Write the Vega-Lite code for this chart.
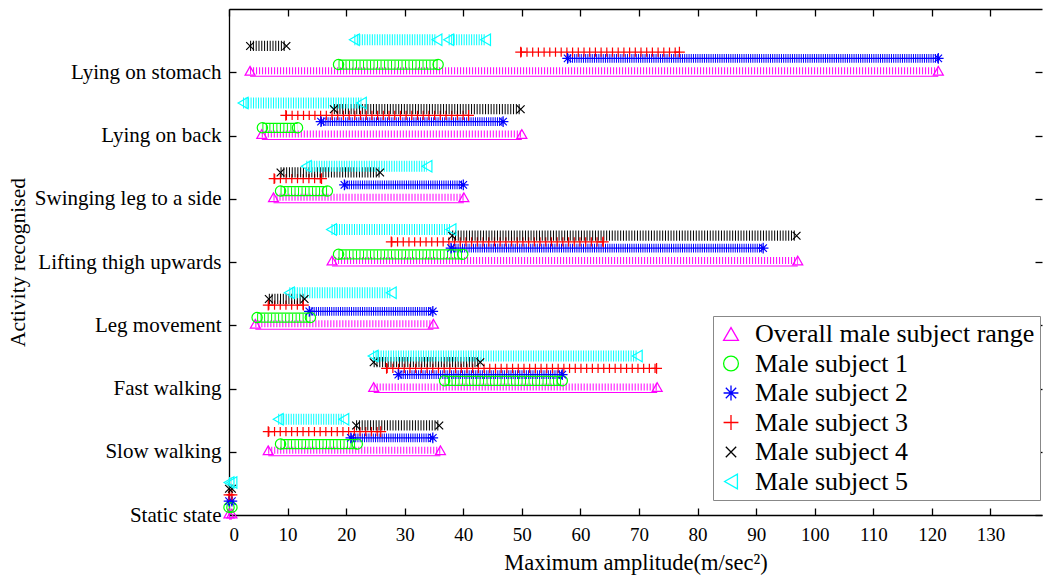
{
  "$schema": "https://vega.github.io/schema/vega-lite/v6.json",
  "autosize": {"type": "none"},
  "padding": {"left": 229, "top": 9, "right": 1, "bottom": 63},
  "width": 813,
  "height": 506,
  "config": {
    "view": {"stroke": null},
    "font": "Liberation Serif",
    "axis": {"grid": false, "domainColor": "black", "tickColor": "black", "domainWidth": 1.3, "tickWidth": 1.3, "labelColor": "black", "titleColor": "black", "labelFont": "Liberation Serif", "titleFont": "Liberation Serif", "titleFontWeight": "normal"},
    "legend": {"labelFont": "Liberation Serif", "labelFontSize": 26, "labelColor": "black", "labelLimit": 400, "symbolSize": 220, "symbolStrokeWidth": 1.3, "rowPadding": 3.5, "padding": 5, "strokeColor": "#888888", "fillColor": "white", "labelOffset": 11}
  },
  "resolve": {"scale": {"yOffset": "independent"}},
  "data": {
    "values": [
      {"activity": "Lying on stomach", "series": "Overall male subject range", "lo": 3.6, "hi": 121.1},
      {"activity": "Lying on stomach", "series": "Male subject 1", "lo": 18.7, "hi": 35.7},
      {"activity": "Lying on stomach", "series": "Male subject 2", "lo": 57.8, "hi": 121.1},
      {"activity": "Lying on stomach", "series": "Male subject 3", "lo": 49.8, "hi": 76.9},
      {"activity": "Lying on stomach", "series": "Male subject 4", "lo": 3.6, "hi": 9.8},
      {"activity": "Lying on stomach", "series": "Male subject 5", "lo": 21.4, "hi": 35.5},
      {"activity": "Lying on stomach", "series": "Male subject 5", "lo": 37.5, "hi": 43.8},
      {"activity": "Lying on back", "series": "Overall male subject range", "lo": 5.6, "hi": 50.0},
      {"activity": "Lying on back", "series": "Male subject 1", "lo": 5.7, "hi": 11.7},
      {"activity": "Lying on back", "series": "Male subject 2", "lo": 15.7, "hi": 46.8},
      {"activity": "Lying on back", "series": "Male subject 3", "lo": 9.7, "hi": 40.9},
      {"activity": "Lying on back", "series": "Male subject 4", "lo": 17.9, "hi": 49.8},
      {"activity": "Lying on back", "series": "Male subject 5", "lo": 2.4, "hi": 22.6},
      {"activity": "Swinging leg to a side", "series": "Overall male subject range", "lo": 7.6, "hi": 40.1},
      {"activity": "Swinging leg to a side", "series": "Male subject 1", "lo": 8.8, "hi": 16.8},
      {"activity": "Swinging leg to a side", "series": "Male subject 2", "lo": 19.7, "hi": 40.0},
      {"activity": "Swinging leg to a side", "series": "Male subject 3", "lo": 7.7, "hi": 15.8},
      {"activity": "Swinging leg to a side", "series": "Male subject 4", "lo": 8.8, "hi": 25.8},
      {"activity": "Swinging leg to a side", "series": "Male subject 5", "lo": 13.2, "hi": 33.8},
      {"activity": "Lifting thigh upwards", "series": "Overall male subject range", "lo": 17.6, "hi": 97.1},
      {"activity": "Lifting thigh upwards", "series": "Male subject 1", "lo": 18.7, "hi": 39.9},
      {"activity": "Lifting thigh upwards", "series": "Male subject 2", "lo": 37.9, "hi": 91.2},
      {"activity": "Lifting thigh upwards", "series": "Male subject 3", "lo": 27.7, "hi": 63.9},
      {"activity": "Lifting thigh upwards", "series": "Male subject 4", "lo": 38.1, "hi": 96.9},
      {"activity": "Lifting thigh upwards", "series": "Male subject 5", "lo": 17.5, "hi": 37.9},
      {"activity": "Leg movement", "series": "Overall male subject range", "lo": 4.5, "hi": 34.9},
      {"activity": "Leg movement", "series": "Male subject 1", "lo": 4.8, "hi": 13.9},
      {"activity": "Leg movement", "series": "Male subject 2", "lo": 13.7, "hi": 34.8},
      {"activity": "Leg movement", "series": "Male subject 3", "lo": 6.7, "hi": 12.7},
      {"activity": "Leg movement", "series": "Male subject 4", "lo": 6.8, "hi": 12.9},
      {"activity": "Leg movement", "series": "Male subject 5", "lo": 10.3, "hi": 27.7},
      {"activity": "Fast walking", "series": "Overall male subject range", "lo": 24.7, "hi": 73.1},
      {"activity": "Fast walking", "series": "Male subject 1", "lo": 36.8, "hi": 56.9},
      {"activity": "Fast walking", "series": "Male subject 2", "lo": 28.9, "hi": 56.9},
      {"activity": "Fast walking", "series": "Male subject 3", "lo": 26.9, "hi": 73.0},
      {"activity": "Fast walking", "series": "Male subject 4", "lo": 24.7, "hi": 42.9},
      {"activity": "Fast walking", "series": "Male subject 5", "lo": 24.6, "hi": 69.7},
      {"activity": "Slow walking", "series": "Overall male subject range", "lo": 6.7, "hi": 36.1},
      {"activity": "Slow walking", "series": "Male subject 1", "lo": 8.8, "hi": 21.9},
      {"activity": "Slow walking", "series": "Male subject 2", "lo": 20.8, "hi": 34.8},
      {"activity": "Slow walking", "series": "Male subject 3", "lo": 6.7, "hi": 25.9},
      {"activity": "Slow walking", "series": "Male subject 4", "lo": 21.7, "hi": 35.9},
      {"activity": "Slow walking", "series": "Male subject 5", "lo": 8.4, "hi": 19.6},
      {"activity": "Static state", "series": "Overall male subject range", "lo": 0.0, "hi": 0.5},
      {"activity": "Static state", "series": "Male subject 1", "lo": 0.0, "hi": 0.5},
      {"activity": "Static state", "series": "Male subject 2", "lo": 0.0, "hi": 0.5},
      {"activity": "Static state", "series": "Male subject 3", "lo": 0.0, "hi": 0.5},
      {"activity": "Static state", "series": "Male subject 4", "lo": 0.0, "hi": 0.5},
      {"activity": "Static state", "series": "Male subject 5", "lo": 0.0, "hi": 0.5}
    ]
  },
  "layer": [
    {
      "mark": {"type": "rule", "strokeCap": "butt"},
      "encoding": {
        "x": {"field": "lo", "type": "quantitative", "scale": {"domain": [0, 138.8], "nice": false, "zero": false},
          "axis": {"orient": "bottom", "values": [0,10,20,30,40,50,60,70,80,90,100,110,120,130], "tickSize": -7, "labelFontSize": 19, "labelPadding": 17, "title": "Maximum amplitude(m/sec²)", "titleFontSize": 22.5, "titlePadding": 7}},
        "x2": {"field": "hi"},
        "y": {"field": "activity", "type": "nominal",
          "scale": {"type": "point", "domain": ["Lying on stomach", "Lying on back", "Swinging leg to a side", "Lifting thigh upwards", "Leg movement", "Fast walking", "Slow walking", "Static state"], "padding": 0.5, "align": 1},
          "axis": {"orient": "left", "tickSize": -7, "labelFontSize": 21, "labelPadding": 15, "labelLimit": 320, "title": "Activity recognised", "titleFontSize": 21.5, "titlePadding": 5}},
        "yOffset": {"field": "series", "type": "nominal", "scale": {"type": "point", "domain": ["Overall male subject range", "Male subject 1", "Male subject 2", "Male subject 3", "Male subject 4", "Male subject 5"], "range": [-1.5, -32.5], "padding": 0}},
        "color": {"field": "series", "type": "nominal", "title": null,
          "scale": {"domain": ["Overall male subject range", "Male subject 1", "Male subject 2", "Male subject 3", "Male subject 4", "Male subject 5"], "range": ["#ff00ff", "#00ff00", "#0000ff", "#ff0000", "#000000", "#00ffff"]},
          "legend": {"orient": "none", "legendX": 484, "legendY": 307, "title": null, "labelFont": "Liberation Serif", "labelFontSize": 26}},
        "strokeWidth": {"field": "series", "type": "nominal", "legend": null,
          "scale": {"domain": ["Male subject 5", "Male subject 4", "Male subject 3", "Male subject 2", "Male subject 1", "Overall male subject range"], "range": [11, 7, 9, 8, 10, 11]}},
        "strokeDash": {"field": "series", "type": "nominal", "legend": null,
          "scale": {"domain": ["Male subject 5", "Male subject 4", "Male subject 3", "Male subject 2", "Male subject 1", "Overall male subject range"], "range": [[1, 1.5], [1, 1.8], [1.2, 4.5], [1, 1.2], [1, 2.5], [1, 2]]}}
      }
    },
    {
      "transform": [{"fold": ["lo", "hi"], "as": ["end", "xv"]}],
      "mark": {"type": "point", "filled": false, "strokeWidth": 1.2, "opacity": 1},
      "encoding": {
        "x": {"field": "xv", "type": "quantitative",
          "axis": {"orient": "top", "values": [0,10,20,30,40,50,60,70,80,90,100,110,120,130], "tickSize": -7, "labels": false, "title": null, "domain": true}},
        "y": {"field": "activity", "type": "nominal",
          "axis": {"orient": "right", "tickSize": -7, "labels": false, "title": null, "domain": false}},
        "yOffset": {"field": "series", "type": "nominal", "scale": {"type": "point", "domain": ["Overall male subject range", "Male subject 1", "Male subject 2", "Male subject 3", "Male subject 4", "Male subject 5"], "range": [-1.5, -32.5], "padding": 0}},
        "size": {"field": "series", "type": "nominal", "legend": null,
          "scale": {"domain": ["Male subject 5", "Male subject 4", "Male subject 3", "Male subject 2", "Male subject 1", "Overall male subject range"], "range": [130, 100, 85, 80, 110, 130]}},
        "color": {"field": "series", "type": "nominal", "title": null,
          "legend": {"orient": "none", "legendX": 484, "legendY": 307, "title": null, "labelFont": "Liberation Serif", "labelFontSize": 26}},
        "shape": {"field": "series", "type": "nominal", "title": null,
          "scale": {"domain": ["Overall male subject range", "Male subject 1", "Male subject 2", "Male subject 3", "Male subject 4", "Male subject 5"], "range": ["triangle-up", "circle", "M-1,0L1,0M0,-1L0,1M-0.7,-0.7L0.7,0.7M-0.7,0.7L0.7,-0.7", "M-1,0L1,0M0,-1L0,1", "M-0.7,-0.7L0.7,0.7M-0.7,0.7L0.7,-0.7", "triangle-left"]},
          "legend": {"orient": "none", "legendX": 484, "legendY": 307, "title": null, "labelFont": "Liberation Serif", "labelFontSize": 26}}
      }
    },
    {
      "transform": [{"filter": {"field": "series", "oneOf": ["Male subject 2", "Male subject 3"]}}],
      "mark": {"type": "rule", "strokeWidth": 1.3},
      "encoding": {
        "x": {"field": "lo", "type": "quantitative", "axis": null},
        "x2": {"field": "hi"},
        "y": {"field": "activity", "type": "nominal", "axis": null},
        "yOffset": {"field": "series", "type": "nominal", "scale": {"type": "point", "domain": ["Overall male subject range", "Male subject 1", "Male subject 2", "Male subject 3", "Male subject 4", "Male subject 5"], "range": [-1.5, -32.5], "padding": 0}},
        "color": {"field": "series", "type": "nominal", "title": null}
      }
    },
    {
      "transform": [{"filter": {"field": "series", "oneOf": ["Overall male subject range", "Male subject 1"]}}],
      "mark": {"type": "rule", "strokeWidth": 1.2},
      "encoding": {
        "x": {"field": "lo", "type": "quantitative", "axis": null},
        "x2": {"field": "hi"},
        "y": {"field": "activity", "type": "nominal", "axis": null},
        "yOffset": {"field": "series", "type": "nominal", "scale": {"type": "point", "domain": ["Overall male subject range", "Male subject 1", "Male subject 2", "Male subject 3", "Male subject 4", "Male subject 5"], "range": [4, -32], "padding": 0}},
        "color": {"field": "series", "type": "nominal", "title": null}
      }
    },
    {
      "transform": [{"filter": {"field": "series", "oneOf": ["Male subject 1"]}}],
      "mark": {"type": "rule", "strokeWidth": 1.2},
      "encoding": {
        "x": {"field": "lo", "type": "quantitative", "axis": null},
        "x2": {"field": "hi"},
        "y": {"field": "activity", "type": "nominal", "axis": null},
        "yOffset": {"field": "series", "type": "nominal", "scale": {"type": "point", "domain": ["Overall male subject range", "Male subject 1", "Male subject 2", "Male subject 3", "Male subject 4", "Male subject 5"], "range": [-6, -37], "padding": 0}},
        "color": {"field": "series", "type": "nominal", "title": null}
      }
    }
  ]
}
